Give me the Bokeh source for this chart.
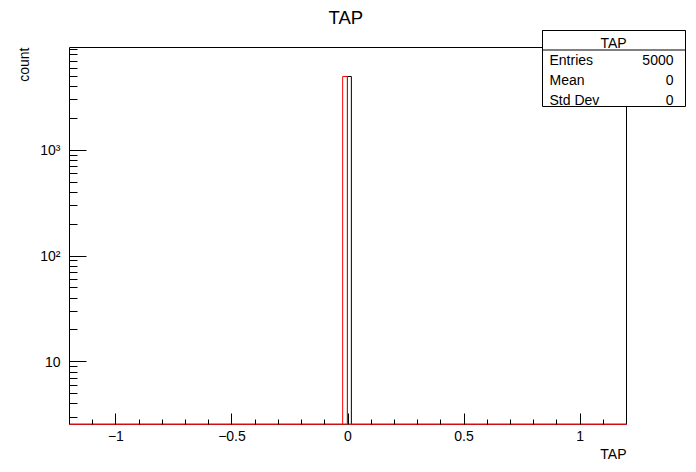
import math
from bokeh.plotting import figure
from bokeh.models import FixedTicker, Label, BoxAnnotation, Range1d, Title
from bokeh.embed import file_html
from bokeh.resources import INLINE

# ---------------- data ----------------
title = "TAP"
x_label = "TAP"
y_label = "count"
x_min, x_max = -1.2, 1.2
y_min, y_max = 2.55, 9400

# black histogram (TAP): non-empty bins
black_left = [-0.0025]
black_right = [0.0145]
black_count = [5000]
# red histogram: non-empty bins
red_left = [-0.023]
red_right = [-0.0025]
red_count = [5000]

stats_title = "TAP"
stats_names = ["Entries", "Mean", "Std Dev"]
stats_values = ["5000", "0", "0"]

x_major = [-1, -0.5, 0, 0.5, 1]
x_major_labels = ["\u22121", "\u22120.5", "0", "0.5", "1"]
x_minor = [-1.1, -0.9, -0.8, -0.7, -0.6, -0.4, -0.3, -0.2, -0.1,
           0.1, 0.2, 0.3, 0.4, 0.6, 0.7, 0.8, 0.9, 1.1]
y_major = [10, 100, 1000]
y_major_labels = ["10", "10\u00b2", "10\u00b3"]
y_minor = [3, 4, 5, 6, 7, 8, 9, 20, 30, 40, 50, 60, 70, 80, 90,
           200, 300, 400, 500, 600, 700, 800, 900,
           2000, 3000, 4000, 5000, 6000, 7000, 8000, 9000]

FONT = "Liberation Sans"

# ---------------- layout (pixels) ----------------
PLOT_W, PLOT_H = 557, 377        # histogram pad area
EXTRA_R, EXTRA_T = 62, 20        # room for the stats box overlapping the pad
FRAME_W, FRAME_H = PLOT_W + EXTRA_R, PLOT_H + EXTRA_T

x_end = x_max + (x_max - x_min) * EXTRA_R / PLOT_W
y_end = 10 ** (math.log10(y_max) + math.log10(y_max / y_min) * EXTRA_T / PLOT_H)

p = figure(frame_width=FRAME_W, frame_height=FRAME_H,
           output_backend="svg", toolbar_location=None,
           x_range=Range1d(x_min, x_end), y_range=Range1d(y_min, y_end),
           y_axis_type="log",
           min_border_left=69, min_border_right=8, min_border_top=27, min_border_bottom=48)
p.background_fill_color = "white"
p.border_fill_color = "white"
p.outline_line_color = None
p.xgrid.visible = False
p.ygrid.visible = False

p.title.text = title
p.title.text_font = FONT
p.title.text_font_size = "18.5px"
p.title.text_font_style = "normal"
p.title.text_color = "black"
p.title.align = "left"
p.title.offset = 259
p.title.standoff = 0

xa = p.xaxis[0]
xa.bounds = (x_min, x_max)
xa.ticker = FixedTicker(ticks=x_major, minor_ticks=x_minor)
xa.major_label_overrides = {v: s for v, s in zip(x_major, x_major_labels)}
xa.major_tick_in = 11
xa.major_tick_out = 0
xa.minor_tick_in = 5
xa.minor_tick_out = 0
xa.major_tick_line_color = "black"
xa.minor_tick_line_color = "black"
xa.axis_line_color = None
xa.major_label_text_font = FONT
xa.major_label_text_font_size = "14px"
xa.major_label_text_color = "black"
xa.major_label_standoff = 6

ya = p.yaxis[0]
ya.bounds = (y_min, y_max)
ya.ticker = FixedTicker(ticks=y_major, minor_ticks=y_minor)
ya.major_label_overrides = {v: s for v, s in zip(y_major, y_major_labels)}
ya.major_tick_in = 17
ya.major_tick_out = 0
ya.minor_tick_in = 8
ya.minor_tick_out = 0
ya.major_tick_line_color = "black"
ya.minor_tick_line_color = "black"
ya.axis_line_color = "black"
ya.major_label_text_font = FONT
ya.major_label_text_font_size = "14px"
ya.major_label_text_color = "black"
ya.major_label_standoff = 9
ya.major_label_orientation = "horizontal"

# axis titles
p.add_layout(Title(text=x_label, align="right", offset=EXTRA_R, standoff=0,
                   text_font=FONT, text_font_size="14px", text_font_style="normal",
                   text_color="black"), "below")
p.add_layout(Title(text=y_label, align="right", offset=EXTRA_T, standoff=12,
                   text_font=FONT, text_font_size="14px", text_font_style="normal",
                   text_color="black"), "left")

# pad frame (top / right edges)
p.quad(left=[x_min], right=[x_max], bottom=[y_min], top=[y_max],
       fill_color=None, line_color="black", line_width=1)


def step(lefts, rights, counts):
    xs, ys = [x_min], [y_min]
    for l, r, c in zip(lefts, rights, counts):
        xs += [l, l, r, r]
        ys += [y_min, c, c, y_min]
    xs.append(x_max)
    ys.append(y_min)
    return xs, ys


bx, by = step(black_left, black_right, black_count)
p.line(bx, by, line_color="black", line_width=1)
rx, ry = step(red_left, red_right, red_count)
p.line(rx, ry, line_color="red", line_width=1)
# red histogram's empty bins sit on the pad bottom
p.segment(x0=[x_min], x1=[x_max], y0=[y_min], y1=[y_min], line_color="red", line_width=2)

# stats box (screen units relative to frame bottom-left)
box_kw = dict(left_units="screen", right_units="screen", bottom_units="screen",
              top_units="screen", fill_color="white", fill_alpha=1.0,
              line_color="black", line_alpha=1.0, line_width=1, level="overlay")
p.add_layout(BoxAnnotation(left=473, right=616, bottom=318, top=394, **box_kw))
p.add_layout(BoxAnnotation(left=473, right=616, bottom=374.5, top=394, **box_kw))
txt_kw = dict(x_units="screen", y_units="screen", text_font=FONT, text_font_size="14px",
              text_baseline="alphabetic", text_color="black", level="overlay")
p.add_layout(Label(x=544, y=382, text=stats_title, text_align="center", **txt_kw))
row_base = [364.5, 344.5, 324.5]
for name, val, yb in zip(stats_names, stats_values, row_base):
    p.add_layout(Label(x=480, y=yb, text=name, text_align="left", **txt_kw))
    p.add_layout(Label(x=604, y=yb, text=val, text_align="right", **txt_kw))

open("out.html", "w").write(file_html(p, INLINE))
